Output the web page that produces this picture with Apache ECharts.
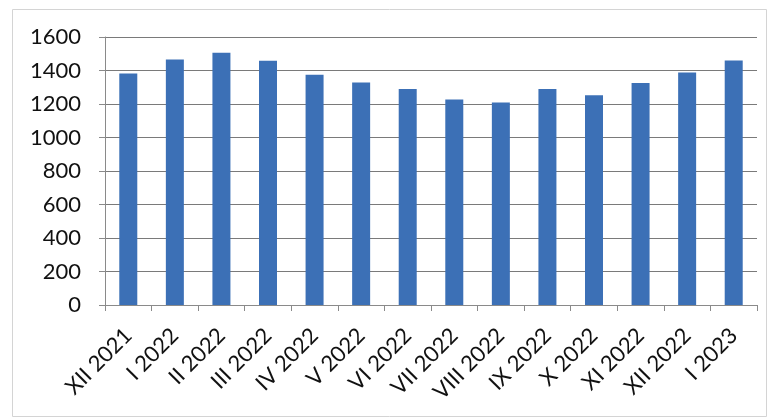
<!DOCTYPE html>
<html>
<head>
<meta charset="utf-8">
<script src="https://cdn.jsdelivr.net/npm/echarts@6/dist/echarts.min.js"></script>
<style>
html,body{margin:0;padding:0;background:#fff;}
#chart{width:775px;height:419px;}
</style>
</head>
<body>
<div id="chart"></div>
<script>
const categories = ['XII 2021','I 2022','II 2022','III 2022','IV 2022','V 2022','VI 2022','VII 2022','VIII 2022','IX 2022','X 2022','XI 2022','XII 2022','I 2023'];
const values = [1382, 1466, 1506, 1458, 1374, 1328, 1290, 1227, 1209, 1290, 1252, 1326, 1388, 1460];
const yTicks = {min: 0, max: 1600, interval: 200};

const chart = echarts.init(document.getElementById('chart'));
chart.setOption({
  animation: false,
  backgroundColor: '#ffffff',
  graphic: [{
    type: 'rect',
    shape: {x: 12.5, y: 9.5, width: 754, height: 407},
    style: {fill: 'none', stroke: '#d4d4d4', lineWidth: 1},
    silent: true
  }],
  grid: {left: 105, right: 18, top: 37, bottom: 114, containLabel: false},
  xAxis: {
    type: 'category',
    data: categories,
    boundaryGap: true,
    axisLine: {show: true, lineStyle: {color: '#8a8a8a', width: 1}},
    axisTick: {show: true, length: 6, alignWithLabel: false, lineStyle: {color: '#8a8a8a'}},
    axisLabel: {
      interval: 0,
      rotate: 45,
      margin: 27,
      color: '#111',
      fontFamily: 'Lato',
      fontSize: 22
    },
    splitLine: {show: false}
  },
  yAxis: {
    type: 'value',
    min: yTicks.min,
    max: yTicks.max,
    interval: yTicks.interval,
    axisLine: {show: true, lineStyle: {color: '#8a8a8a', width: 1}},
    axisTick: {show: true, length: 6, lineStyle: {color: '#8a8a8a'}},
    axisLabel: {
      margin: 24,
      color: '#111',
      fontFamily: 'Lato',
      fontSize: 22,
      formatter: function (v) { return String(v); }
    },
    splitLine: {show: true, lineStyle: {color: '#7a7a7a', width: 1}}
  },
  series: [{
    type: 'bar',
    data: values,
    barWidth: 18,
    itemStyle: {color: '#3c70b6'}
  }]
});
</script>
</body>
</html>
